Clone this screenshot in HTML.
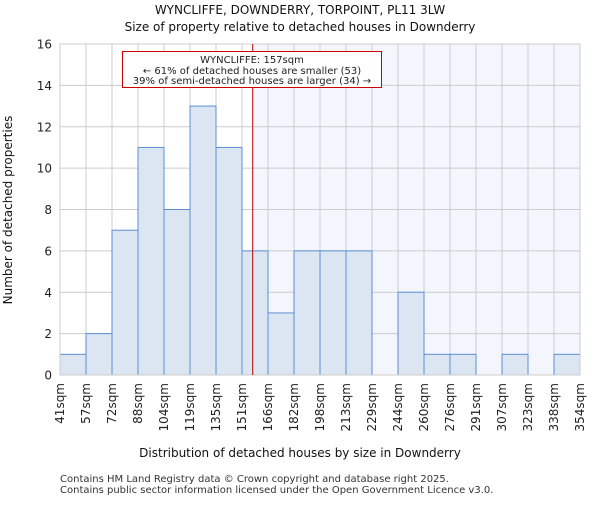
<!DOCTYPE html>
<html><head><meta charset="utf-8"><style>body{margin:0;background:#fff}svg{font-family:"DejaVu Sans","Liberation Sans",sans-serif}</style></head>
<body>
<svg id="c" width="600" height="500" xmlns="http://www.w3.org/2000/svg"></svg>
<script>
const binLabels=["41sqm","57sqm","72sqm","88sqm","104sqm","119sqm","135sqm","151sqm","166sqm","182sqm","198sqm","213sqm","229sqm","244sqm","260sqm","276sqm","291sqm","307sqm","323sqm","338sqm","354sqm"];
const binEdges=[41,56.65,72.3,87.95,103.6,119.25,134.9,150.55,166.2,181.85,197.5,213.15,228.8,244.45,260.1,275.75,291.4,307.05,322.7,338.35,354];
const counts=[1,2,7,11,8,13,11,6,3,6,6,6,0,4,1,1,0,1,0,1];
const yTicks=[0,2,4,6,8,10,12,14,16];
const markerValue=157;
const L=60,R=580,T=44,B=375;
const xs=v=>L+(v-binEdges[0])/(binEdges[binEdges.length-1]-binEdges[0])*(R-L);
const ys=v=>B-v/16*(B-T);
const svg=document.getElementById('c');const NS='http://www.w3.org/2000/svg';
function mk(t,a,txt){const e=document.createElementNS(NS,t);for(const k in a)e.setAttribute(k,a[k]);if(txt!=null)e.textContent=txt;svg.appendChild(e);return e;}
let e;
e=mk('rect',{x:xs(markerValue),y:T,width:R-xs(markerValue),height:B-T,fill:'#f3f6fd'});


binEdges.forEach(v=>{e=mk('line',{x1:xs(v),x2:xs(v),y1:T,y2:B,stroke:'#cccccc','stroke-width':1});

});
yTicks.forEach(v=>{e=mk('line',{x1:L,x2:R,y1:ys(v),y2:ys(v),stroke:'#cccccc','stroke-width':1});


e=mk('text',{x:L-8,y:ys(v)+4.5,'text-anchor':'end','font-size':12,fill:'#222'},String(v));

});
counts.forEach((c,i)=>{if(c<=0)return;const x0=xs(binEdges[i]),x1=xs(binEdges[i+1]);
e=mk('rect',{x:x0,y:ys(c),width:x1-x0,height:ys(0)-ys(c),fill:'#dce6f3',stroke:'#5b8fd6','stroke-width':1});

});
binLabels.forEach((t,i)=>{const x=xs(binEdges[i]);
e=mk('text',{x:x+4,y:B+8,'text-anchor':'end','font-size':12,fill:'#222',transform:`rotate(-90 ${x+4} ${B+8})`},t);

});
e=mk('rect',{x:L,y:T,width:R-L,height:B-T,fill:'none',stroke:'#cccccc'});


const mx=xs(markerValue);
e=mk('line',{x1:mx,x2:mx,y1:T,y2:B,stroke:'#b00000','stroke-width':1});


e=mk('rect',{x:122.5,y:51.5,width:259,height:36,fill:'#fff',stroke:'#cc0000','stroke-width':1});


[["WYNCLIFFE: 157sqm",63],["← 61% of detached houses are smaller (53)",74],["39% of semi-detached houses are larger (34) →",84]].forEach(([t,y])=>{
e=mk('text',{x:252,y:y,'text-anchor':'middle','font-size':10,fill:'#222'},t);

});
e=mk('text',{x:300,y:14,'text-anchor':'middle','font-size':12,fill:'#111'},"WYNCLIFFE, DOWNDERRY, TORPOINT, PL11 3LW");


e=mk('text',{x:300,y:31,'text-anchor':'middle','font-size':12,fill:'#111'},"Size of property relative to detached houses in Downderry");


e=mk('text',{x:300,y:457,'text-anchor':'middle','font-size':12,fill:'#111'},"Distribution of detached houses by size in Downderry");


e=mk('text',{x:12,y:210,'text-anchor':'middle','font-size':12,fill:'#111',transform:'rotate(-90 12 210)'},"Number of detached properties");


e=mk('text',{x:60,y:482,'font-size':10,fill:'#333'},"Contains HM Land Registry data © Crown copyright and database right 2025.");


e=mk('text',{x:60,y:493,'font-size':10,fill:'#333'},"Contains public sector information licensed under the Open Government Licence v3.0.");


</script>
</body></html>
